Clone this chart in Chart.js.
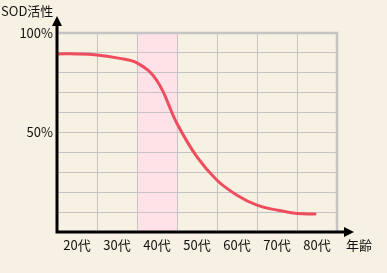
<!DOCTYPE html>
<html><head><meta charset="utf-8">
<script src="https://cdn.jsdelivr.net/npm/chart.js@4"></script>
<style>html,body{margin:0;padding:0;background:#f6f1e3;}#wrap{width:387px;height:273px;}</style>
</head><body><div id="wrap"><canvas id="c" width="387" height="273"></canvas></div>
<script>
const categories = ['20代','30代','40代','50代','60代','70代','80代'];
const highlightCategory = '40代';
const yAxisTitle = 'SOD活性';
const xAxisTitle = '年齢';
const yTickLabels = {50:'50%',100:'100%'};
// curve: position along age axis (0 = start of 20代, 1 cell per decade) and SOD activity %
const curveX = [0, 0.5, 1.0, 1.5, 2.0, 2.5, 3.0, 3.5, 4.0, 4.5, 5.0, 5.5, 6.0, 6.45];
const curveY = [89.5, 89.5, 89, 87.5, 85, 76, 54.5, 37.7, 26, 18.5, 13.5, 11, 9.3, 9];

const FONT = '"Noto Sans CJK JP", "Noto Sans", sans-serif';

const deco = {
  id:'deco',
  beforeDraw(chart){
    const {ctx, chartArea:a} = chart;
    ctx.save();
    ctx.fillStyle = '#f6f1e3';
    ctx.fillRect(0,0,chart.width,chart.height);
    const xs = chart.scales.xs;
    const i = categories.indexOf(highlightCategory);
    const x0 = xs.getPixelForValue(i), x1 = xs.getPixelForValue(i+1);
    ctx.fillStyle = '#ffe1e8';
    ctx.fillRect(x0, a.top, x1-x0, a.bottom-a.top);
    ctx.restore();
  },
  afterDatasetsDraw(chart){
    const {ctx, chartArea:a} = chart;
    ctx.save();
    ctx.strokeStyle = '#c4c4c4';
    ctx.lineWidth = 2.5;
    ctx.beginPath();
    ctx.moveTo(a.left, a.top); ctx.lineTo(a.right, a.top); ctx.lineTo(a.right, a.bottom);
    ctx.stroke();
    ctx.strokeStyle = '#000'; ctx.fillStyle = '#000';
    ctx.lineWidth = 3;
    ctx.beginPath();
    ctx.moveTo(a.left, 24); ctx.lineTo(a.left, a.bottom+1.5);
    ctx.moveTo(a.left-1.5, a.bottom); ctx.lineTo(346, a.bottom);
    ctx.stroke();
    ctx.beginPath();
    ctx.moveTo(a.left, 16); ctx.lineTo(a.left-5, 26); ctx.lineTo(a.left+5, 26); ctx.closePath(); ctx.fill();
    ctx.beginPath();
    ctx.moveTo(354, a.bottom); ctx.lineTo(344, a.bottom-5); ctx.lineTo(344, a.bottom+5); ctx.closePath(); ctx.fill();
    ctx.font = '13px ' + FONT;
    ctx.fillStyle = '#111';
    ctx.textBaseline = 'middle';
    ctx.textAlign = 'left';
    ctx.fillText(yAxisTitle, 1, 11);
    ctx.fillText(xAxisTitle, 346, 245);
    ctx.restore();
  }
};

new Chart(document.getElementById('c'), {
  type:'line',
  data:{
    labels: categories,
    datasets:[{
      data: curveX.map((x,i)=>({x, y: curveY[i]})),
      xAxisID:'xs',
      borderColor:'#ef4d5d',
      borderWidth:3,
      borderCapStyle:'round',
      pointRadius:0,
      tension:0.4,
      fill:false
    }]
  },
  options:{
    responsive:false,
    animation:false,
    devicePixelRatio:1,
    layout:{padding:{left:0, top:33, right:50, bottom:0}},
    plugins:{legend:{display:false}, tooltip:{enabled:false}},
    scales:{
      x:{
        type:'category',
        offset:true,
        border:{display:false},
        grid:{offset:true, color:'#c4c4c4', lineWidth:1, drawTicks:false},
        ticks:{padding:5, color:'#111', font:{family:FONT, size:13}, maxRotation:0},
        afterFit(s){ s.height = 41; }
      },
      xs:{
        type:'linear', display:false, min:0, max:categories.length
      },
      y:{
        min:0, max:100,
        border:{display:false},
        grid:{color:(c)=> c.tick && c.tick.value===0 ? 'rgba(0,0,0,0)' : '#c4c4c4', lineWidth:1, drawTicks:false},
        ticks:{stepSize:10, padding:4, color:'#111', font:{family:FONT, size:13},
          callback:(v)=> yTickLabels[v] || ''},
        afterFit(s){ s.width = 57; }
      }
    }
  },
  plugins:[deco]
});
</script>
</body></html>
